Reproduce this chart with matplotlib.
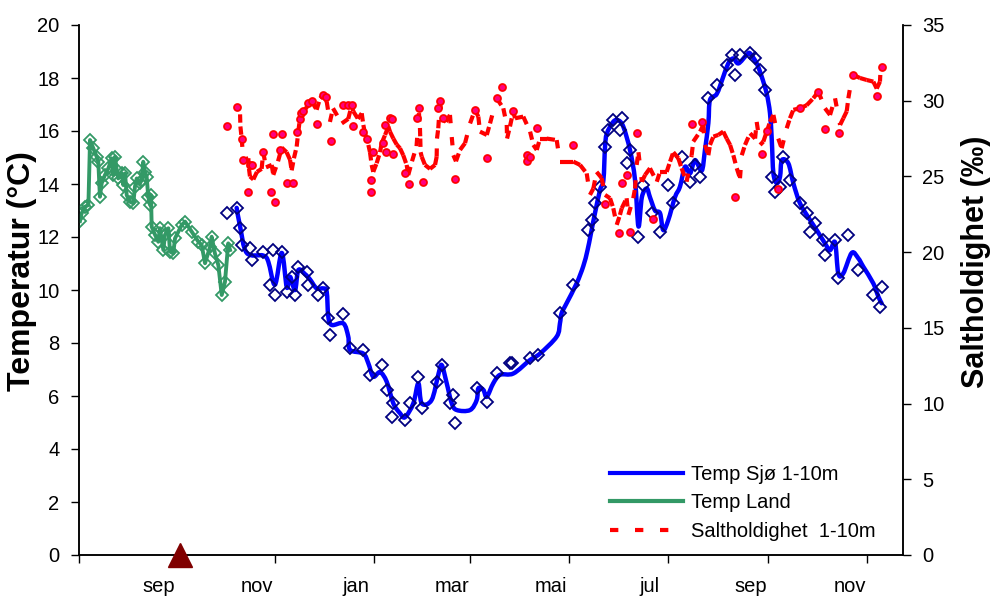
import matplotlib
matplotlib.use("Agg")
import matplotlib.pyplot as plt
import matplotlib.ticker as mticker
import matplotlib.dates as mdates
from matplotlib.path import Path
from matplotlib.patches import PathPatch
from matplotlib.lines import Line2D
from matplotlib.collections import LineCollection
import pandas as pd
import numpy as np

plt.rcParams['font.family'] = ['Liberation Sans', 'DejaVu Sans']

# ---------------- data (day offsets from 2006-07-03) ----------------
base_date = "2006-07-03"
axis_days = 508

# Temp Land (green line + open diamonds)
land_day = [0.6, 1.6, 3.7, 5.8, 6.8, 8.8, 10.9, 11.9, 12.9, 14.0, 16.0, 18.1, 20.1, 21.1, 22.2, 23.2,
            24.2, 26.3, 27.3, 28.4, 29.4, 31.4, 33.5, 34.5, 35.6, 37.6, 38.7, 39.6, 40.7, 41.7, 42.7,
            43.8, 44.4, 44.8, 46.9, 48.9, 49.9, 52.0, 53.0, 55.1, 56.1, 58.1, 59.2, 63.3, 65.4, 69.5,
            73.6, 75.6, 77.7, 80.8, 81.8, 83.8, 85.9, 88.0, 90.0, 92.0, 93.1]
land_temp = [12.6, 12.89, 13.14, 13.21, 15.66, 15.35, 15.03, 14.84, 13.52, 14.03, 14.34, 14.59, 14.97,
             14.34, 15.03, 14.53, 14.21, 14.4, 13.96, 14.4, 13.58, 13.33, 13.27, 13.9, 14.21, 14.03,
             14.15, 14.84, 14.46, 14.28, 13.52, 13.21, 13.58, 12.39, 12.08, 11.82, 12.33, 11.51, 12.08,
             12.33, 11.45, 11.38, 11.95, 12.45, 12.58, 12.2, 11.82, 11.7, 11.01, 11.63, 12.01, 11.38,
             10.94, 9.81, 10.31, 11.76, 11.51]

# Temp Sjø 1-10m (blue smoothed line)
sea_day = [97.2, 99.3, 103.4, 113.6, 116.7, 120.8, 125.0, 128.1, 130.1, 133.2, 135.2, 139.3, 142.4,
           146.5, 150.6, 152.7, 153.7, 155.8, 163.0, 166.0, 167.1, 175.3, 178.4, 181.4, 185.6, 189.7,
           193.8, 197.9, 201.0, 206.1, 209.2, 211.3, 217.4, 221.5, 223.6, 226.7, 229.8, 232.9, 241.1,
           245.2, 246.2, 249.3, 251.4, 255.4, 259.6, 267.8, 278.1, 284.2, 294.5, 296.5, 297.5, 300.6,
           306.8, 310.9, 313.5, 315.5, 318.1, 321.2, 323.3, 324.3, 325.4, 329.4, 332.5, 335.6, 339.7,
           342.8, 344.9, 347.0, 350.0, 352.0, 355.1, 358.2, 360.2, 363.3, 367.4, 370.5, 373.6, 376.7,
           379.8, 383.9, 385.9, 388.0, 389.0, 393.2, 397.2, 400.3, 403.4, 406.5, 411.6, 413.7, 417.8,
           420.9, 424.0, 426.0, 427.1, 428.1, 430.2, 432.2, 433.3, 437.3, 440.4, 444.5, 450.7, 454.8,
           459.9, 463.0, 466.1, 468.1, 471.2, 476.4, 480.4, 483.5, 489.7, 492.8, 494.8]
sea_temp = [13.1, 12.4, 11.4, 11.3, 11.07, 10.2, 11.4, 10.1, 10.5, 10.0, 10.75, 10.6, 10.4, 10.06,
            10.06, 9.94, 9.0, 8.68, 8.74, 8.24, 7.74, 7.6, 7.23, 6.73, 6.9, 6.54, 5.72, 5.35, 5.2, 5.72,
            6.48, 5.72, 5.85, 6.8, 7.17, 6.48, 5.72, 5.47, 5.47, 5.85, 6.29, 6.23, 5.97, 6.48, 6.8, 6.85,
            7.36, 7.6, 8.24, 8.74, 9.12, 9.5, 10.25, 10.9, 11.5, 12.1, 12.9, 13.77, 14.15, 15.4, 15.9,
            16.35, 16.4, 16.16, 15.28, 14.15, 12.4, 13.5, 13.83, 13.5, 13.0, 12.9, 12.26, 12.64, 13.5,
            13.9, 14.65, 14.4, 14.9, 14.5, 15.28, 16.3, 17.17, 17.4, 18.05, 18.55, 18.74, 18.55, 18.87,
            18.93, 18.55, 18.05, 17.4, 16.67, 15.66, 14.4, 14.03, 14.28, 14.9, 14.78, 14.03, 13.27,
            12.64, 12.26, 11.76, 11.5, 11.8, 10.63, 10.63, 11.4, 11.2, 10.88, 10.25, 9.75, 9.5]

# Temp Sjø single measurements (open navy diamonds)
sea_pt_day = [91.1, 97.2, 99.3, 100.3, 105.4, 106.5, 113.6, 119.8, 125.0, 117.8, 120.8, 128.0, 131.1,
              133.2, 135.2, 140.3, 141.4, 147.5, 150.6, 153.7, 154.7, 163.0, 167.1, 175.3, 179.4,
              186.6, 189.7, 193.8, 192.8, 201.0, 204.1, 209.2, 211.3, 220.5, 223.6, 228.7, 230.8,
              231.8, 245.2, 251.4, 257.5, 265.7, 266.8, 278.1, 283.2, 296.5, 304.8, 314.0, 316.1,
              318.1, 321.2, 324.3, 326.3, 329.4, 334.6, 333.5, 337.6, 339.7, 344.9, 348.0, 353.1,
              358.2, 363.3, 366.4, 371.5, 376.7, 379.8, 382.9, 388.0, 393.2, 399.3, 402.4, 404.4,
              407.5, 413.7, 416.8, 419.9, 423.0, 427.1, 429.1, 432.2, 434.2, 438.3, 444.5, 448.6,
              450.7, 453.8, 458.9, 459.9, 466.1, 468.1, 474.3, 480.4, 489.7, 493.8, 494.8]
sea_pt_temp = [12.9, 13.08, 12.33, 11.7, 11.57, 11.13, 11.45, 11.5, 11.45, 10.19, 9.81, 9.94, 10.5,
               9.81, 10.88, 10.69, 10.19, 9.81, 10.06, 8.93, 8.3, 9.09, 7.8, 7.74, 6.79, 7.17, 6.23,
               5.72, 5.22, 5.09, 5.72, 6.73, 5.54, 6.54, 7.17, 5.72, 6.04, 4.97, 6.29, 5.79, 6.86,
               7.23, 7.23, 7.42, 7.55, 9.12, 10.19, 12.26, 12.64, 13.27, 13.9, 15.4, 16.04, 16.42,
               16.48, 16.04, 14.78, 15.28, 12.01, 13.96, 12.89, 12.2, 13.96, 13.27, 15.03, 14.09,
               14.72, 14.28, 17.23, 17.74, 18.49, 18.87, 18.11, 18.87, 18.93, 18.74, 18.3, 17.55,
               14.28, 13.71, 13.9, 15.03, 14.15, 13.27, 12.89, 12.2, 12.52, 11.89, 11.32, 11.89,
               10.44, 12.08, 10.75, 9.81, 9.37, 10.13]

# Saltholdighet 1-10m (red dashed line)
sal_day = [99.3, 99.5, 100.3, 101.3, 104.4, 104.8, 105.4, 107.5, 109.7, 112.6, 113.6, 115.3, 118.8,
           119.8, 122.7, 125.0, 128.0, 130.1, 131.1, 132.5, 134.2, 135.2, 136.2, 138.3, 141.4, 143.5,
           146.5, 148.6, 150.6, 152.7, 154.7, 156.6, 162.0, 166.0, 168.1, 169.1, 172.0, 174.3, 175.3,
           176.3, 178.4, 179.4, 180.4, 181.4, 183.5, 185.6, 186.6, 188.7, 190.7, 191.7, 193.8, 195.9,
           197.9, 199.9, 202.0, 203.0, 205.3, 208.1, 209.6, 210.2, 210.4, 210.6, 211.3, 213.3, 216.4,
           219.5, 220.5, 220.7, 221.5, 222.6, 223.6, 226.3, 228.7, 229.8, 230.8, 232.4, 234.9, 238.0,
           241.1, 244.1, 246.2, 247.2, 251.4, 253.4, 257.5, 261.6, 263.7, 263.9, 265.7, 267.7, 268.8,
           273.9, 278.1, 280.1, 282.2, 284.2, 288.3, 294.5, 296.5, 300.6, 304.7, 308.9, 313.0, 315.0,
           317.1, 319.1, 322.2, 324.3, 327.4, 329.4, 331.5, 333.5, 334.6, 337.6, 338.7, 341.7, 342.8,
           343.8, 344.9, 347.0, 349.0, 352.0, 356.2, 358.2, 362.3, 364.4, 366.4, 369.5, 371.5, 374.6,
           377.7, 378.7, 382.9, 384.9, 385.9, 388.0, 389.0, 391.1, 394.1, 397.2, 399.3, 401.4, 403.4,
           405.5, 407.5, 408.6, 410.6, 413.7, 416.8, 417.8, 419.9, 421.9, 424.0, 426.0, 428.1, 431.1,
           433.2, 436.3, 438.3, 440.4, 444.5, 448.6, 452.7, 455.8, 459.9, 463.0, 466.1, 469.2, 471.2,
           473.3, 474.3, 476.4, 477.4, 481.5, 485.6, 489.7, 491.8, 493.8, 494.0]
sal_val = [29.1, 28.3, 27.5, 26.1, 26.2, 25.5, 25.0, 24.8, 25.3, 25.5, 26.6, 25.6, 25.76, 25.1, 26.0,
           26.9, 26.6, 26.1, 25.4, 26.2, 26.97, 27.96, 28.8, 29.3, 29.7, 29.95, 29.4, 30.16, 30.38,
           29.95, 28.6, 29.5, 28.5, 28.8, 29.7, 29.3, 28.8, 29.17, 28.4, 27.85, 27.08, 26.6, 25.76,
           25.3, 25.87, 26.6, 27.2, 27.74, 28.3, 27.96, 27.5, 27.1, 26.86, 26.4, 25.76, 25.1, 26.0,
           27.0, 29.17, 28.2, 27.5, 26.6, 26.3, 25.76, 25.5, 25.76, 26.3, 27.5, 28.18, 30.0, 28.84,
           28.6, 29.06, 27.6, 26.4, 26.0, 26.75, 27.2, 28.5, 29.4, 28.95, 27.96, 27.74, 28.5, 30.16,
           29.5, 28.4, 27.5, 28.3, 29.3, 28.84, 28.95, 27.96, 27.08, 26.75, 27.5, 27.5, 27.4, 25.98,
           25.98, 25.98, 25.76, 25.2, 23.78, 24.2, 25.3, 24.9, 23.78, 23.56, 22.9, 21.8, 22.46, 22.9,
           23.56, 22.46, 23.56, 24.2, 25.76, 26.6, 24.65, 25.1, 25.54, 24.65, 25.3, 25.3, 25.98, 26.6,
           26.2, 25.54, 24.65, 26.4, 27.3, 27.96, 28.4, 27.08, 26.4, 27.08, 27.63, 27.74, 27.96, 27.5,
           27.08, 26.4, 25.54, 24.88, 26.4, 27.08, 27.85, 27.5, 28.6, 27.08, 27.3, 27.96, 28.6, 29.06,
           27.5, 26.86, 28.18, 28.84, 29.4, 29.5, 29.7, 30.16, 30.6, 29.5, 29.06, 30.16, 28.4, 28.84,
           29.3, 30.16, 31.5, 31.7, 31.5, 31.37, 31.26, 30.8, 31.26, 31.7]

# Saltholdighet single measurements (red circles)
sal_pt_day = [91.0, 97.2, 100.3, 101.3, 104.4, 105.4, 106.5, 113.6, 118.1, 119.8, 120.8, 123.9, 124.9,
              128.0, 131.9, 134.2, 136.2, 136.9, 138.3, 141.4, 143.5, 146.5, 150.6, 152.3, 155.4,
              163.0, 166.0, 168.1, 169.1, 175.3, 177.4, 180.0, 180.0, 181.4, 187.6, 188.7, 189.1,
              191.7, 192.7, 193.8, 201.0, 203.6, 208.1, 209.6, 212.3, 221.5, 222.6, 224.6, 231.8,
              244.1, 251.4, 257.5, 260.6, 267.7, 276.0, 276.0, 278.1, 282.2, 304.7, 324.3, 333.2,
              334.6, 337.6, 339.7, 344.2, 354.1, 377.7, 383.9, 404.4, 420.9, 424.0, 431.1, 444.5,
              455.8, 459.9, 468.7, 477.4, 491.8, 495.0]
sal_pt_val = [28.36, 29.6, 27.5, 26.1, 24.0, 25.76, 25.76, 26.6, 23.96, 27.8, 23.3, 26.75, 27.8,
              24.55, 24.55, 27.96, 28.8, 29.2, 29.3, 29.83, 30.0, 28.45, 30.4, 30.27, 27.35, 29.7,
              29.7, 29.7, 28.3, 27.96, 27.5, 24.77, 23.96, 26.6, 27.2, 28.4, 26.6, 28.84, 28.8, 26.5,
              25.2, 24.5, 28.84, 29.5, 24.65, 29.5, 30.0, 28.84, 24.8, 29.4, 26.2, 30.2, 30.93, 29.3,
              26.4, 26.0, 26.3, 28.18, 27.08, 23.2, 21.25, 24.55, 25.1, 21.35, 27.9, 22.2, 28.45,
              28.6, 23.67, 26.5, 28.0, 24.2, 29.5, 30.6, 28.1, 27.9, 31.7, 30.3, 32.25]

event_date = "2006-09-03"
event_value = 0

tick_dates = ["2006-09-01", "2006-11-01", "2007-01-01", "2007-03-01",
              "2007-05-01", "2007-07-01", "2007-09-01", "2007-11-01"]
tick_labels = ["sep", "nov", "jan", "mar", "mai", "jul", "sep", "nov"]

temp_ticks = list(range(0, 21, 2))
sal_ticks = list(range(0, 36, 5))

# ---------------- plotting ----------------
base = pd.Timestamp(base_date)
def to_dates(days):
    return base + pd.to_timedelta(np.asarray(days), unit="D")

fig = plt.figure(figsize=(9.91, 5.97), dpi=100)
ax = fig.add_axes([79/991, 1-555/597, (903-79)/991, (555-25)/597])
ax2 = ax.twinx()

blue = "#0000FF"
navy = "#000080"
green = "#339966"
red = "#FF0000"


def smooth_path(xs, ys):
    """Excel-style smoothed line: cubic Bezier through the given points."""
    p = np.column_stack([xs, ys])
    n = len(p)
    verts = [p[0]]
    codes = [Path.MOVETO]
    for i in range(n - 1):
        p0 = p[i - 1] if i > 0 else p[i]
        p1 = p[i]
        p2 = p[i + 1]
        p3 = p[i + 2] if i + 2 < n else p[i + 1]
        c1 = p1 + (p2 - p0) / 6.0
        c2 = p2 - (p3 - p1) / 6.0
        verts += [c1, c2, p2]
        codes += [Path.CURVE4] * 3
    return Path(np.array(verts), codes)


ax.plot(to_dates(land_day), land_temp, color=green, lw=2.8, marker="D", ms=6,
        mfc="none", mec=green, mew=1.3, zorder=3)

sea_x = mdates.date2num(to_dates(sea_day))
ax.add_patch(PathPatch(smooth_path(sea_x, np.asarray(sea_temp)), fill=False, edgecolor=blue,
                       lw=3.2, capstyle="round", joinstyle="round", zorder=3))
ax.plot(to_dates(sea_pt_day), sea_pt_temp, ls="none", marker="D", ms=6, mfc="none",
        mec=navy, mew=1.3, zorder=4)

# salinity line: dash pattern restarts on every segment (as in the original spreadsheet chart)
sal_x = mdates.date2num(to_dates(sal_day))
sal_y = np.asarray(sal_val)
segs = [[(sal_x[i], sal_y[i]), (sal_x[i + 1], sal_y[i + 1])] for i in range(len(sal_x) - 1)]
ax2.add_collection(LineCollection(segs, colors=red, linewidths=3.0,
                                  linestyles=[(0, (2, 4))], capstyle="butt", zorder=3))
ax2.plot(to_dates(sal_pt_day), sal_pt_val, ls="none", marker="o", ms=5, mfc="#FF0080",
         mec=red, mew=1.3, zorder=4)

ax2.plot([pd.Timestamp(event_date)], [event_value], marker="^", color="#800000", ms=17,
         clip_on=False, zorder=10, transform=ax.transData)

xmin = base
xmax = base + pd.Timedelta(days=axis_days)
ax.set_xlim(xmin, xmax)
ax2.set_xlim(xmin, xmax)
ax.set_ylim(0, 20)
ax2.set_ylim(0, 35)

tick_ts = [pd.Timestamp(d) for d in tick_dates]
ax.xaxis.set_major_locator(mticker.FixedLocator(mdates.date2num([xmin] + tick_ts)))
ax.xaxis.set_major_formatter(mticker.NullFormatter())
lab_pos = [t - pd.Timedelta(days=11) for t in tick_ts]
ax.xaxis.set_minor_locator(mticker.FixedLocator(mdates.date2num(lab_pos)))
ax.xaxis.set_minor_formatter(mticker.FixedFormatter(tick_labels))
ax.tick_params(axis="x", which="major", length=6, width=1, direction="out")
ax.tick_params(axis="x", which="minor", length=0, pad=16, labelsize=14.5)

ax.set_yticks(temp_ticks)
ax2.set_yticks(sal_ticks)
ax.tick_params(axis="y", length=6, width=1, labelsize=14.5, pad=8)
ax2.tick_params(axis="y", length=6, width=1, labelsize=14.5, pad=8)

for a in (ax, ax2):
    a.spines["top"].set_visible(False)
    for s in ("left", "right", "bottom"):
        a.spines[s].set_linewidth(1.1)

ax.set_ylabel("Temperatur (°C)", fontsize=23, fontweight="bold")
ax.yaxis.set_label_coords((37 - 79) / 824, (555 - 271) / 530)
ax2.set_ylabel("Saltholdighet (‰)", fontsize=22, fontweight="bold")
ax2.yaxis.set_label_coords((961 - 79) / 824, (555 - 262) / 530)

handles = [Line2D([], [], color=blue, lw=3.0),
           Line2D([], [], color=green, lw=3.0),
           Line2D([], [], color=red, lw=3.0, dashes=(2, 4))]
labels = ["Temp Sjø 1-10m", "Temp Land", "Saltholdighet  1-10m"]
leg = ax2.legend(handles, labels, loc="lower left", bbox_to_anchor=(0.5974, 0.0633),
                 bbox_transform=fig.transFigure, frameon=False, fontsize=14.5,
                 handlelength=3.6, handletextpad=0.4, labelspacing=0.48, borderpad=0.4)
leg.set_zorder(20)

fig.savefig("out.png", dpi=100)
